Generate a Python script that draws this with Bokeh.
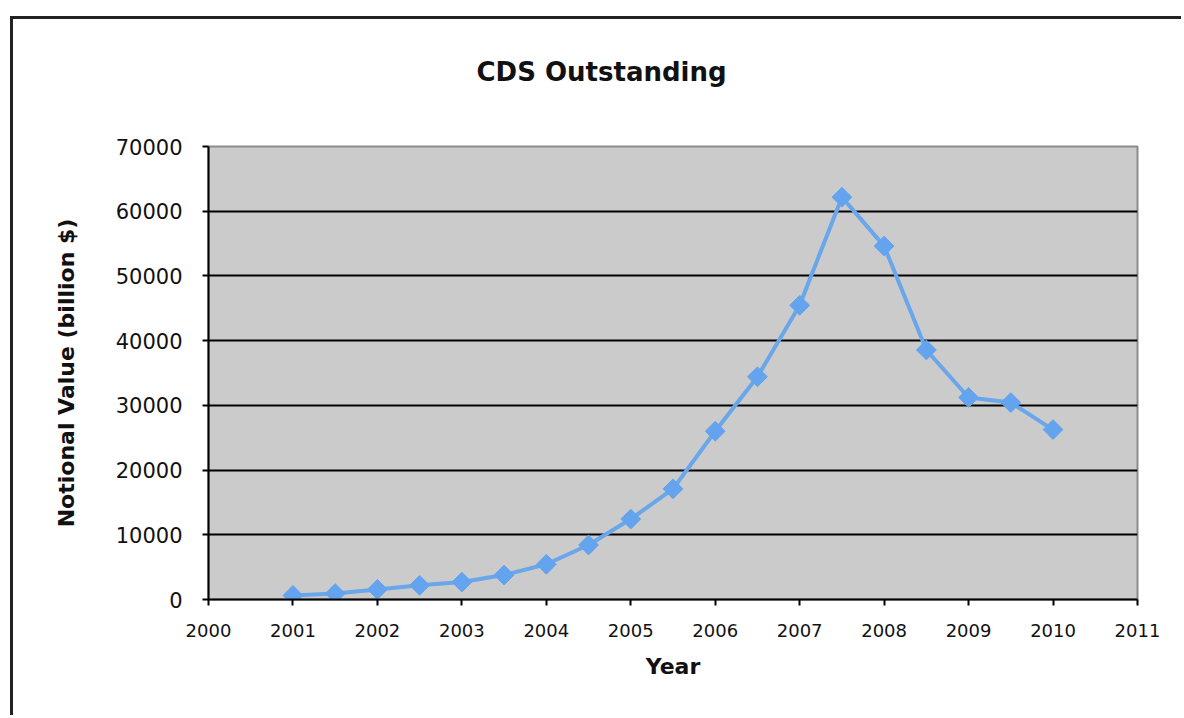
import math
from bokeh.plotting import figure
from bokeh.models import FixedTicker, Range1d
from bokeh.embed import file_html
from bokeh.resources import INLINE

years = [2001.0, 2001.5, 2002.0, 2002.5, 2003.0, 2003.5, 2004.0, 2004.5, 2005.0, 2005.5,
         2006.0, 2006.5, 2007.0, 2007.5, 2008.0, 2008.5, 2009.0, 2009.5, 2010.0]
notional = [630, 920, 1560, 2190, 2690, 3780, 5440, 8420, 12430, 17100,
            26000, 34420, 45460, 62170, 54610, 38560, 31220, 30430, 26260]

x_ticks = list(range(2000, 2012))
y_ticks = list(range(0, 70001, 10000))
grid_ticks = list(range(10000, 60001, 10000))

FONT = "DejaVu Sans"

p = figure(width=1171, height=699, output_backend="svg", toolbar_location=None,
           x_range=Range1d(2000, 2011), y_range=Range1d(0, 70000),
           min_border_left=195, min_border_right=47, min_border_top=127, min_border_bottom=119,
           title="CDS Outstanding\n ",
           styles={"border-top": "3px solid #222", "border-left": "3px solid #222"},
           margin=(16, 0, 0, 10))

p.background_fill_color = "#cbcbcb"
p.border_fill_color = "white"
p.outline_line_color = "#8c8c8c"
p.outline_line_width = 2

p.title.align = "left"
p.title.offset = 268
p.title.text_font = FONT
p.title.text_font_size = "26px"
p.title.text_font_style = "bold"
p.title.text_color = "#111111"
p.title.standoff = 60

p.line(years, notional, line_color="#6aa6ea", line_width=4)
p.scatter(years, notional, marker="square", angle=math.pi / 4, size=14,
          fill_color="#64a3ee", line_color="#64a3ee", line_width=1)

p.xaxis.ticker = FixedTicker(ticks=x_ticks)
p.yaxis.ticker = FixedTicker(ticks=y_ticks)
p.xgrid.visible = False
p.ygrid.ticker = FixedTicker(ticks=grid_ticks)
p.ygrid.grid_line_color = "black"
p.ygrid.grid_line_width = 2

for ax in (p.xaxis[0], p.yaxis[0]):
    ax.axis_line_color = "black"
    ax.axis_line_width = 2
    ax.major_tick_line_color = "black"
    ax.major_tick_line_width = 2
    ax.major_tick_out = 6
    ax.major_tick_in = 0
    ax.minor_tick_line_color = None
    ax.major_label_text_font = FONT
    ax.major_label_text_color = "#111111"
    ax.axis_label_text_font = FONT
    ax.axis_label_text_font_style = "bold"
    ax.axis_label_text_color = "#111111"
    ax.axis_label_text_font_size = "22px"

p.yaxis.major_label_text_font_size = "21px"
p.yaxis.major_label_standoff = 20
p.yaxis.axis_label = "Notional Value (billion $)"
p.yaxis.axis_label_standoff = 34
p.yaxis.formatter.use_scientific = False

p.xaxis.major_label_text_font_size = "18px"
p.xaxis.major_label_standoff = 18
p.xaxis.axis_label = "Year"
p.xaxis.axis_label_standoff = 14

open("out.html", "w").write(file_html(p, INLINE))
